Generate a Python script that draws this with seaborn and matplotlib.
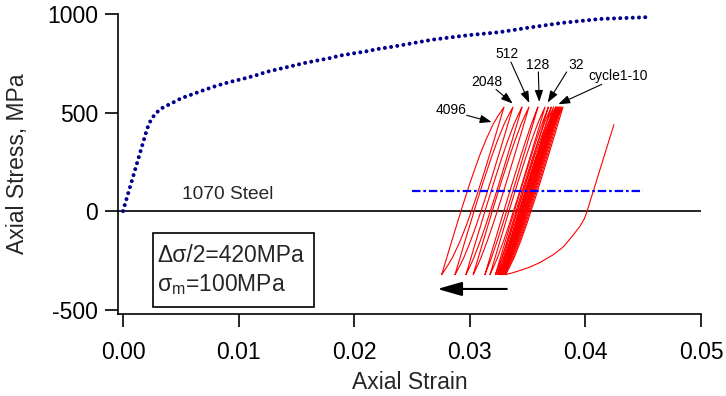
import numpy as np
import pandas as pd
import matplotlib
matplotlib.use("Agg")
import matplotlib.pyplot as plt
import seaborn as sns
from matplotlib.patches import Rectangle

# ---------------- data ----------------
mono_strain = [0.0, 0.0010, 0.0020, 0.00219, 0.00245, 0.00283, 0.00335, 0.00392, 0.00444,
               0.00502, 0.00606, 0.00709, 0.00816, 0.00923, 0.0103, 0.0114, 0.0124, 0.0135,
               0.0146, 0.0156, 0.0167, 0.0178, 0.0188, 0.0199, 0.0210, 0.0220, 0.0231,
               0.0240, 0.0268, 0.0298, 0.0326, 0.0350, 0.0380, 0.0413, 0.0454]
mono_stress = [0, 200, 400, 434, 466, 496, 522, 539, 554,
               572, 594, 616, 637, 655, 670, 687, 706, 721,
               736, 750, 763, 775, 789, 800, 810, 822, 832,
               841, 870, 892, 908, 930, 955, 975, 984]

first_strain = [0.04247, 0.04011, 0.0399, 0.0395, 0.0389, 0.0381, 0.0372, 0.0361,
                0.0352, 0.0343, 0.0337, 0.0331]
first_stress = [439, -7, -40, -79, -125, -181, -222, -260, -284, -302, -313, -322]

loop_cycles = ["1", "2", "3", "4", "5", "6", "7", "8", "9", "10",
               "16", "24", "32", "64", "128", "512", "1024", "2048", "4096"]
loop_bottom = [0.03310, 0.03302, 0.03295, 0.03289, 0.03283, 0.03278, 0.03273, 0.03268,
               0.03264, 0.03260, 0.03248, 0.03236, 0.03222, 0.03175, 0.03131, 0.03030,
               0.02967, 0.02872, 0.02757]
loop_top = [0.03806, 0.03795, 0.03785, 0.03777, 0.03770, 0.03764, 0.03758, 0.03752,
            0.03747, 0.03742, 0.03725, 0.03705, 0.03680, 0.03651, 0.03590, 0.03512,
            0.03452, 0.03374, 0.03296]
loop_stress_min = -322
loop_stress_max = 528
loop_modulus = 198000.0
# loop branch shape: fraction of stress range vs fraction of inelastic width
shape_frac = [0.0, 0.2, 0.4, 0.55, 0.7, 0.8, 0.9, 0.95, 1.0]
shape_plastic = [0.0, 0.01, 0.04, 0.09, 0.2, 0.33, 0.55, 0.75, 1.0]

mean_line_strain = [0.025, 0.045]
mean_line_stress = [100, 100]

ratchet_from = (0.0332, -395)
ratchet_to = (0.0272, -395)

cycle_labels = ["4096", "2048", "512", "128", "32", "cycle1-10"]
label_xy = [(0.02842, 512), (0.03146, 655), (0.03322, 799), (0.0359, 743), (0.03923, 743), (0.04286, 685)]
arrow_start = [(0.02973, 486), (0.03227, 617), (0.03356, 756), (0.03593, 706), (0.03838, 706), (0.04141, 643)]
arrow_tip = [(0.03189, 452), (0.03371, 546), (0.03515, 549), (0.03601, 554), (0.03674, 551), (0.03766, 542)]

x_ticks = [0.00, 0.01, 0.02, 0.03, 0.04, 0.05]
x_ticklabels = ["0.00", "0.01", "0.02", "0.03", "0.04", "0.05"]
y_ticks = [-500, 0, 500, 1000]
y_ticklabels = ["-500", "0", "500", "1000"]

# ---------------- build loop table ----------------
rows = []
dsig = loop_stress_max - loop_stress_min
for cyc, b, t in zip(loop_cycles, loop_bottom, loop_top):
    wp = (t - b) - dsig / loop_modulus
    for u, p in zip(shape_frac, shape_plastic):       # loading branch
        rows.append((cyc, b + u * dsig / loop_modulus + wp * p, loop_stress_min + u * dsig))
    for v, p in zip(shape_frac, shape_plastic):       # unloading branch
        rows.append((cyc, t - v * dsig / loop_modulus - wp * p, loop_stress_max - v * dsig))
loops = pd.DataFrame(rows, columns=["cycle", "strain", "stress"])
first = pd.DataFrame({"strain": first_strain, "stress": first_stress})
mono = pd.DataFrame({"strain": mono_strain, "stress": mono_stress})

# ---------------- style ----------------
sns.set_style("white")
plt.rcParams["font.family"] = ["Liberation Sans", "DejaVu Sans"]
plt.rcParams["mathtext.fontset"] = "custom"
plt.rcParams["mathtext.rm"] = "Liberation Sans"

fig = plt.figure(figsize=(7.26, 3.96), dpi=100)
ax = fig.add_axes([0.16253, 0.20707, 0.80303, 0.75758])

ax.axhline(0, color="black", lw=1.2, zorder=1)

sns.lineplot(data=mono, x="strain", y="stress", sort=False, estimator=None, ax=ax,
             color="#00008c", lw=2.9, linestyle=(0, (0.001, 1.55)),
             dash_capstyle="round", zorder=3)
sns.lineplot(data=loops, x="strain", y="stress", units="cycle", estimator=None, sort=False,
             ax=ax, color="#ff0000", lw=0.8, zorder=2)
sns.lineplot(data=first, x="strain", y="stress", sort=False, estimator=None, ax=ax,
             color="#ff0000", lw=0.8, zorder=2)
ax.plot(mean_line_strain, mean_line_stress, color="#0000ff", lw=1.6,
        linestyle=(0, (3.8, 1.3, 1.2, 1.3)), zorder=2)

ax.annotate("", xy=ratchet_to, xytext=ratchet_from,
            arrowprops=dict(arrowstyle="-|>,head_length=1.5,head_width=0.43",
                            color="black", lw=1.5, shrinkA=0, shrinkB=0))

for lab, lxy, a0, a1 in zip(cycle_labels, label_xy, arrow_start, arrow_tip):
    ax.text(lxy[0], lxy[1], lab, fontsize=10, ha="center", va="center", color="black")
    ax.annotate("", xy=a1, xytext=a0,
                arrowprops=dict(arrowstyle="-|>,head_length=0.7,head_width=0.25",
                                color="black", lw=0.8, shrinkA=0, shrinkB=0))

ax.text(0.0051, 59, "1070 Steel", fontsize=13.8, ha="left", va="baseline")
ax.add_patch(Rectangle((0.00260, -486), 0.01652 - 0.00260, 375, fill=False,
                       ec="black", lw=1.2, zorder=4))
ax.text(0.00294, -258, "Δσ/2=420MPa", fontsize=16.5, ha="left", va="baseline")
ax.text(0.00294, -405, r"$\mathregular{σ_m}$=100MPa", fontsize=16.5, ha="left", va="baseline")

ax.set_xlim(-0.00043, 0.05)
ax.set_ylim(-522, 1000)
ax.set_xticks(x_ticks)
ax.set_xticklabels(x_ticklabels)
ax.set_yticks(y_ticks)
ax.set_yticklabels(y_ticklabels)
ax.tick_params(direction="out", length=9.5, width=1.2, labelsize=16.5, pad=5,
               colors="black", left=True, bottom=True)
ax.tick_params(axis="x", pad=10)
for s in ["top", "right"]:
    ax.spines[s].set_visible(False)
for s in ["left", "bottom"]:
    ax.spines[s].set_linewidth(1.2)
    ax.spines[s].set_color("black")

ax.set_xlabel("Axial Strain", fontsize=16.5, labelpad=5)
ax.set_ylabel("Axial Stress, MPa", fontsize=16.5)
ax.yaxis.set_label_coords(-0.152, 0.5)

fig.savefig("out.png", dpi=100, facecolor="white")
